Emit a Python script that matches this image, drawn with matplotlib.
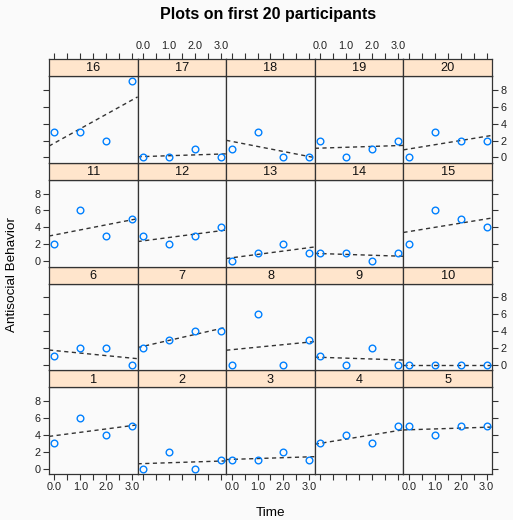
import numpy as np
import matplotlib
matplotlib.use('Agg')
import matplotlib.pyplot as plt

plt.rcParams['font.family'] = ['Liberation Sans', 'DejaVu Sans']

participants = list(range(1, 21))
time = [0, 1, 2, 3]
antisocial = [
    [3, 6, 4, 5], [0, 2, 0, 1], [1, 1, 2, 1], [3, 4, 3, 5], [5, 4, 5, 5],
    [1, 2, 2, 0], [2, 3, 4, 4], [0, 6, 0, 3], [1, 0, 2, 0], [0, 0, 0, 0],
    [2, 6, 3, 5], [3, 2, 3, 4], [0, 1, 2, 1], [1, 1, 0, 1], [2, 6, 5, 4],
    [3, 3, 2, 9], [0, 0, 1, 0], [1, 3, 0, 0], [2, 0, 1, 2], [0, 3, 2, 2],
]
x_ticks = [0, 0.5, 1, 1.5, 2, 2.5, 3]
x_labels = ['0.0', '', '1.0', '', '2.0', '', '3.0']
y_ticks = [0, 2, 4, 6, 8]
y_labels = ['0', '2', '4', '6', '8']

W, H = 513, 520
BG = '#fafafa'
fig = plt.figure(figsize=(W / 100, H / 100), dpi=100, facecolor=BG)

gl, gr, gt, gb = 49, 492, 59, 474
ncol, nrow = 5, 4
cw = (gr - gl) / ncol
rh = (gb - gt) / nrow
sh = 17
ph = rh - sh

xlim = (-0.21, 3.21)
ylim = (-0.63, 9.63)
frame_col = '#333333'

def fx(x):
    return x / W

def fy(y):
    return 1 - y / H

for i, pid in enumerate(participants):
    row = i // ncol
    col = i % ncol
    left = gl + col * cw
    pbot = gb - row * rh
    ptop = pbot - ph
    ax = fig.add_axes([fx(left), fy(pbot), cw / W, ph / H], facecolor=BG)
    vals = antisocial[i]
    ax.plot(time, vals, 'o', mfc='none', mec='#0080ff', ms=4.8, mew=1.0, zorder=3)
    coef = np.polyfit(time, vals, 1)
    xs = np.array(xlim)
    ax.plot(xs, np.polyval(coef, xs), ls=(0, (3, 2.5)), color='#333333', lw=1.0, zorder=2)
    ax.set_xlim(*xlim)
    ax.set_ylim(*ylim)
    for s in ax.spines.values():
        s.set_color(frame_col)
        s.set_linewidth(0.9)
    ax.set_xticks(x_ticks)
    ax.set_xticklabels(x_labels)
    ax.set_yticks(y_ticks)
    ax.set_yticklabels(y_labels)
    ax.tick_params(direction='out', length=4, width=0.8, color=frame_col,
                   labelsize=7.8, labelcolor='#222222', pad=2,
                   bottom=False, top=False, left=False, right=False,
                   labelbottom=False, labeltop=False, labelleft=False, labelright=False)
    if row == 0:
        ax.tick_params(bottom=True, labelbottom=(col % 2 == 0))
    if col == 0:
        ax.tick_params(left=True, labelleft=(row % 2 == 0))
    if col == ncol - 1:
        ax.tick_params(right=True, labelright=(row % 2 == 1))

    # strip
    sax = fig.add_axes([fx(left), fy(ptop), cw / W, sh / H], facecolor='#ffe5cc')
    sax.set_xlim(*xlim)
    sax.set_xticks(x_ticks)
    sax.set_yticks([])
    sax.tick_params(direction='out', length=4, width=0.8, color=frame_col,
                    bottom=False, labelbottom=False, top=False, labeltop=False)
    if row == nrow - 1:
        sax.tick_params(top=True, labeltop=(col % 2 == 1), labelsize=7.8,
                        labelcolor='#222222', pad=2)
        sax.set_xticklabels(x_labels)
    for s in sax.spines.values():
        s.set_color(frame_col)
        s.set_linewidth(0.9)
    sax.text(0.5, 0.45, str(pid), transform=sax.transAxes, ha='center', va='center',
             fontsize=9.2, color='#111111')

fig.text(fx(268), fy(15), 'Plots on first 20 participants', ha='center', va='center',
         fontsize=11.5, fontweight='bold')
fig.text(fx(270.5), fy(513), 'Time', ha='center', va='center', fontsize=9.7)
fig.text(fx(12), fy(275), 'Antisocial Behavior', ha='center', va='center',
         rotation=90, fontsize=9.7)

fig.savefig('out.png', dpi=100, facecolor=BG)
